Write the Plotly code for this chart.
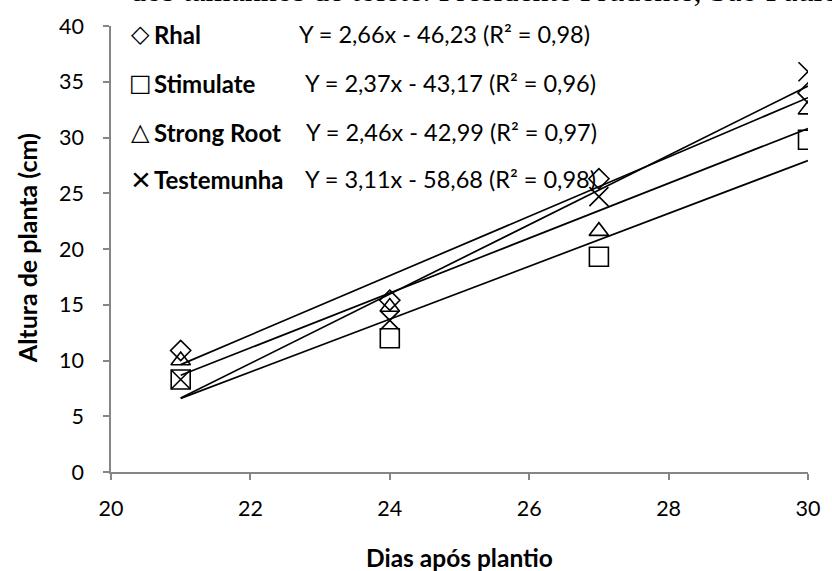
import plotly.graph_objects as go

# ---- data ----
days = [21, 24, 27, 30]
series_names = ["Rhal", "Stimulate", "Strong Root", "Testemunha"]
rhal = [10.9, 15.4, 26.3, 34.0]
stimulate = [8.3, 12.0, 19.3, 29.8]
strong_root = [10.0, 14.8, 21.6, 32.5]
testemunha = [8.3, 13.6, 24.7, 35.9]
slopes = [2.66, 2.37, 2.46, 3.11]
intercepts = [-46.23, -43.17, -42.99, -58.68]
r2 = ["0,98", "0,96", "0,97", "0,98"]
equations = ["Y = 2,66x - 46,23", "Y = 2,37x - 43,17", "Y = 2,46x - 42,99", "Y = 3,11x - 58,68"]
legend_glyphs = ["◇", "□", "△", "×"]
x_ticks = [20, 22, 24, 26, 28, 30]
y_ticks = [0, 5, 10, 15, 20, 25, 30, 35, 40]
trend_x = [21, 30]
title_text = "dos tamanhos de tolete. Presidente Prudente, São Paulo"

values = [rhal, stimulate, strong_root, testemunha]
symbols = ["diamond-open", "square-open", "triangle-up-open", "x-thin-open"]
sizes = [15.5, 19, 17, 19]

W, H = 832, 571
L, R, T, B = 111, 14, 26, 99
pw, ph = W - L - R, H - T - B


def px(x):
    return (x - L) / pw


def py(y):
    return (H - B - y) / ph


FONT = "Lato"
fig = go.Figure()

for i, name in enumerate(series_names):
    fig.add_trace(go.Scatter(
        x=trend_x, y=[slopes[i] * v + intercepts[i] for v in trend_x],
        mode="lines", line=dict(color="black", width=1.7),
        showlegend=False, hoverinfo="skip"))

for i, name in enumerate(series_names):
    fig.add_trace(go.Scatter(
        x=days, y=values[i], mode="markers", name=name,
        marker=dict(symbol=symbols[i], size=sizes[i], color="black",
                    line=dict(color="black", width=1.6)),
        showlegend=False))

annotations = []
legend_y = [34, 83, 132, 179]
eq_x = [300, 306, 307, 306]
glyph_fonts = ["DejaVu Sans", "DejaVu Sans", "DejaVu Sans", "Liberation Sans"]
glyph_sizes = [24, 24, 24, 34]
for i, name in enumerate(series_names):
    annotations.append(dict(
        x=px(141), y=py(legend_y[i]), xref="paper", yref="paper",
        xanchor="center", yanchor="middle", showarrow=False,
        text=legend_glyphs[i],
        font=dict(family=glyph_fonts[i], size=glyph_sizes[i], color="black")))
    annotations.append(dict(
        x=px(153), y=py(legend_y[i]), xref="paper", yref="paper",
        xanchor="left", yanchor="middle", showarrow=False,
        text=f"<b>{name}</b>",
        font=dict(family=FONT, size=24, color="black")))
    annotations.append(dict(
        x=px(eq_x[i]), y=py(legend_y[i]), xref="paper", yref="paper",
        xanchor="left", yanchor="middle", showarrow=False,
        text=f"{equations[i]} (R² = {r2[i]})",
        font=dict(family=FONT, size=23.5, color="black")))

annotations.append(dict(
    x=px(128), y=py(10), xref="paper", yref="paper",
    xanchor="left", yanchor="bottom", showarrow=False,
    text=title_text,
    font=dict(family="Liberation Serif", size=32, color="black")))
annotations.append(dict(
    x=px(26), y=py(248), xref="paper", yref="paper",
    xanchor="center", yanchor="middle", showarrow=False, textangle=-90,
    text="<b>Altura de planta (cm)</b>",
    font=dict(family=FONT, size=25, color="black")))
annotations.append(dict(
    x=px(465), y=py(557), xref="paper", yref="paper",
    xanchor="center", yanchor="middle", showarrow=False,
    text="<b>Dias após plantio</b>",
    font=dict(family=FONT, size=24.5, color="black")))

fig.update_layout(
    width=W, height=H,
    margin=dict(l=L, r=R, t=T, b=B),
    paper_bgcolor="white", plot_bgcolor="white",
    annotations=annotations,
    showlegend=False,
)
fig.update_xaxes(
    range=[20, 30], tickvals=x_ticks, showgrid=False, zeroline=False,
    showline=True, linecolor="#868686", linewidth=1.5,
    ticks="outside", ticklen=6, tickcolor="#868686", tickwidth=1.5,
    ticklabelstandoff=10,
    tickfont=dict(family=FONT, size=21.5, color="black"))
fig.update_yaxes(
    range=[0, 40], tickvals=y_ticks, showgrid=False, zeroline=False,
    showline=True, linecolor="#868686", linewidth=1.5,
    ticks="outside", ticklen=6, tickcolor="#868686", tickwidth=1.5,
    ticklabelstandoff=15,
    tickfont=dict(family=FONT, size=21.5, color="black"))

fig.write_html("out.html")
